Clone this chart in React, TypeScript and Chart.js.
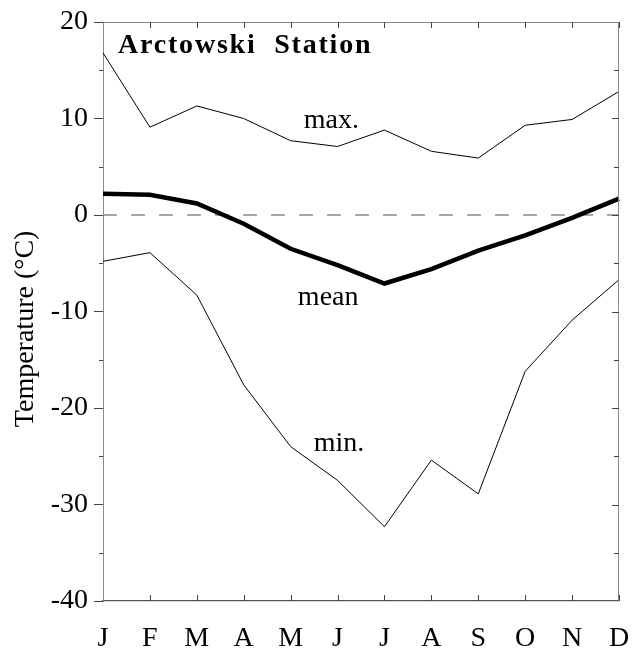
import React, { useEffect, useRef } from 'react';
import { Chart, registerables } from 'chart.js';

Chart.register(...registerables);

const months = ['J', 'F', 'M', 'A', 'M', 'J', 'J', 'A', 'S', 'O', 'N', 'D'];
const maxTemp = [16.8, 9.1, 11.3, 10.0, 7.7, 7.1, 8.8, 6.6, 5.9, 9.3, 9.9, 12.8];
const meanTemp = [2.2, 2.1, 1.2, -0.9, -3.5, -5.2, -7.1, -5.6, -3.7, -2.1, -0.3, 1.7];
const minTemp = [-4.8, -3.9, -8.3, -17.6, -24.0, -27.5, -32.3, -25.4, -28.9, -16.2, -10.9, -6.7];
const yMin = -40;
const yMax = 20;
const yStep = 10;
const titleText = 'Arctowski  Station';
const yTitle = 'Temperature (°C)';
const seriesLabels = ['max.', 'mean', 'min.'];

const SERIF = '"Liberation Serif", "Times New Roman", serif';

const framePlugin = {
  id: 'frame',
  beforeDatasetsDraw(chart: any) {
    const { ctx, chartArea: a, scales } = chart;
    const y0 = scales.y.getPixelForValue(0);
    ctx.save();
    ctx.strokeStyle = '#8a8a8a';
    ctx.lineWidth = 1.5;
    ctx.setLineDash([14, 14]);
    ctx.beginPath();
    ctx.moveTo(a.left, y0);
    ctx.lineTo(a.right, y0);
    ctx.stroke();
    ctx.restore();
  },
  afterDraw(chart: any) {
    const { ctx, chartArea: a, scales } = chart;
    const x = scales.x;
    const y = scales.y;
    ctx.save();
    // top and right frame
    ctx.strokeStyle = '#888';
    ctx.lineWidth = 1;
    ctx.beginPath();
    ctx.moveTo(a.left, a.top + 0.5);
    ctx.lineTo(a.right, a.top + 0.5);
    ctx.moveTo(a.right - 0.5, a.top);
    ctx.lineTo(a.right - 0.5, a.bottom);
    ctx.stroke();
    // month ticks on top and bottom, inward
    ctx.strokeStyle = '#444';
    ctx.beginPath();
    for (let i = 1; i < months.length; i++) {
      const px = Math.round(x.getPixelForValue(i)) + 0.5;
      ctx.moveTo(px, a.top);
      ctx.lineTo(px, a.top + 6);
      ctx.moveTo(px, a.bottom);
      ctx.lineTo(px, a.bottom - 6);
    }
    // right ticks every 5 degrees, inward
    for (let v = yMin + 5; v < yMax; v += 5) {
      const py = Math.round(y.getPixelForValue(v)) + 0.5;
      ctx.moveTo(a.right, py);
      ctx.lineTo(a.right - (v % 10 === 0 ? 7 : 5), py);
    }
    // left minor ticks
    for (let v = yMin + 5; v < yMax; v += 10) {
      const py = Math.round(y.getPixelForValue(v)) + 0.5;
      ctx.moveTo(a.left, py);
      ctx.lineTo(a.left - 4, py);
    }
    ctx.stroke();

    // texts
    ctx.fillStyle = '#000';
    ctx.textBaseline = 'alphabetic';
    ctx.font = `bold 28px ${SERIF}`;
    (ctx as any).letterSpacing = '1.8px';
    ctx.textAlign = 'left';
    ctx.fillText(titleText, x.getPixelForValue(0.32), y.getPixelForValue(16.8));
    (ctx as any).letterSpacing = '0px';

    ctx.font = `28px ${SERIF}`;
    ctx.textAlign = 'center';
    ctx.fillText(seriesLabels[0], x.getPixelForValue(4.87), y.getPixelForValue(9.0));
    ctx.fillText(seriesLabels[1], x.getPixelForValue(4.8), y.getPixelForValue(-9.3));
    ctx.fillText(seriesLabels[2], x.getPixelForValue(5.03), y.getPixelForValue(-24.5));

    // y axis title
    ctx.translate(26, y.getPixelForValue(-11.8));
    ctx.rotate(-Math.PI / 2);
    ctx.textBaseline = 'middle';
    ctx.fillText(yTitle, 0, 0);
    ctx.restore();
  },
};

export default function App() {
  const ref = useRef<HTMLCanvasElement>(null);
  useEffect(() => {
    if (!ref.current) return;
    const chart = new Chart(ref.current, {
      type: 'line',
      data: {
        labels: months,
        datasets: [
          { label: 'max', data: maxTemp, borderColor: '#000', borderWidth: 1, pointRadius: 0, tension: 0 },
          { label: 'mean', data: meanTemp, borderColor: '#000', borderWidth: 4.5, pointRadius: 0, tension: 0 },
          { label: 'min', data: minTemp, borderColor: '#000', borderWidth: 1, pointRadius: 0, tension: 0 },
        ],
      },
      options: {
        responsive: false,
        animation: false,
        events: [],
        layout: { padding: { top: 22, right: 16, left: 0, bottom: 0 } },
        plugins: { legend: { display: false }, tooltip: { enabled: false }, title: { display: false } },
        scales: {
          x: {
            offset: false,
            grid: { display: false, drawTicks: false },
            border: { display: true, color: '#555', width: 1.2 },
            ticks: { color: '#000', font: { family: SERIF, size: 28 }, padding: 21, maxRotation: 0, autoSkip: false },
            afterFit: (s: any) => { s.height = 51; s.paddingLeft = 0; s.paddingRight = 0; },
          },
          y: {
            min: yMin,
            max: yMax,
            grid: { display: true, drawOnChartArea: false, drawTicks: true, tickLength: 9, color: '#444' },
            border: { display: true, color: '#8a8a8a', width: 1 },
            ticks: { stepSize: yStep, color: '#000', font: { family: SERIF, size: 28 }, padding: 6 },
            afterFit: (s: any) => { s.width = 103; s.paddingTop = 0; s.paddingBottom = 0; },
          },
        },
      },
      plugins: [framePlugin],
    });
    return () => chart.destroy();
  }, []);
  return (
    <div style={{ position: 'absolute', left: 0, top: 0, width: 635, height: 652, background: '#fff' }}>
      <canvas ref={ref} width={635} height={652} />
    </div>
  );
}
